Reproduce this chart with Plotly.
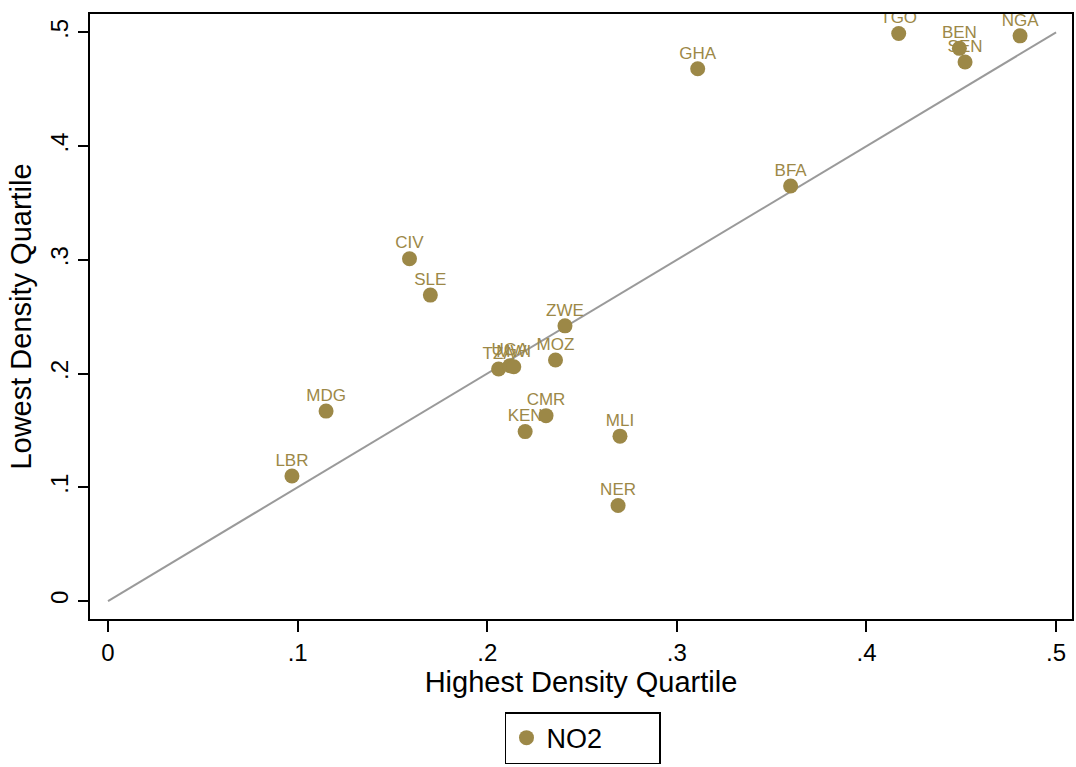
import plotly.graph_objects as go

countries = ["LBR","MDG","CIV","SLE","TZA","UGA","MWI","MOZ","ZWE","KEN","CMR","MLI","NER","GHA","BFA","TGO","BEN","SEN","NGA"]
highest = [0.097,0.115,0.159,0.170,0.206,0.212,0.214,0.236,0.241,0.220,0.231,0.270,0.269,0.311,0.360,0.417,0.449,0.452,0.481]
lowest = [0.110,0.167,0.301,0.269,0.204,0.207,0.206,0.212,0.242,0.149,0.163,0.145,0.084,0.468,0.365,0.499,0.486,0.474,0.497]
diag = [0, 0.5]
ticks = [0, 0.1, 0.2, 0.3, 0.4, 0.5]
tick_labels = ["0", ".1", ".2", ".3", ".4", ".5"]

olive = "#9C8847"
font = "Liberation Sans, Arial, sans-serif"

fig = go.Figure()
fig.add_trace(go.Scatter(x=diag, y=diag, mode="lines", line=dict(color="#9a9a9a", width=2),
                         showlegend=False, hoverinfo="skip"))
fig.add_trace(go.Scatter(x=highest, y=lowest, mode="markers",
                         marker=dict(color=olive, size=15), name="NO2", showlegend=True))
fig.add_trace(go.Scatter(x=highest, y=lowest, mode="markers+text", text=countries,
                         textposition="top center", textfont=dict(color=olive, size=17, family=font),
                         marker=dict(color=olive, size=8, opacity=0), showlegend=False,
                         hoverinfo="skip"))

fig.update_layout(
    width=1076, height=767,
    margin=dict(l=90, r=4, t=14, b=147),
    paper_bgcolor="white", plot_bgcolor="white",
    font=dict(family=font, size=24, color="black"),
    xaxis=dict(range=[-0.0095, 0.5084], tickvals=ticks, ticktext=tick_labels, ticks="outside",
               ticklen=11, tickwidth=2, tickcolor="black", showgrid=False, zeroline=False,
               showline=True, linecolor="black", linewidth=2, mirror=True, automargin=False,
               tickfont=dict(size=24),
               title=dict(text="Highest Density Quartile", standoff=6)),
    yaxis=dict(range=[-0.0158, 0.5162], tickvals=ticks, ticktext=tick_labels, ticks="outside",
               ticklen=10, tickwidth=2, tickcolor="black", tickangle=-90, showgrid=False, zeroline=False,
               showline=True, linecolor="black", linewidth=2, mirror=True, automargin=False,
               tickfont=dict(size=24),
               title=dict(text="Lowest Density Quartile", standoff=6)),
    legend=dict(x=0.4226, xanchor="left", y=-0.152, yanchor="top", orientation="h",
                bordercolor="black", borderwidth=1.5, font=dict(size=27), itemsizing="trace",
                itemwidth=30, entrywidth=108, entrywidthmode="pixels"),
)

fig.write_html("out.html", config={"displayModeBar": False},
               post_script="document.body.style.margin='0';document.body.style.overflow='hidden';")
